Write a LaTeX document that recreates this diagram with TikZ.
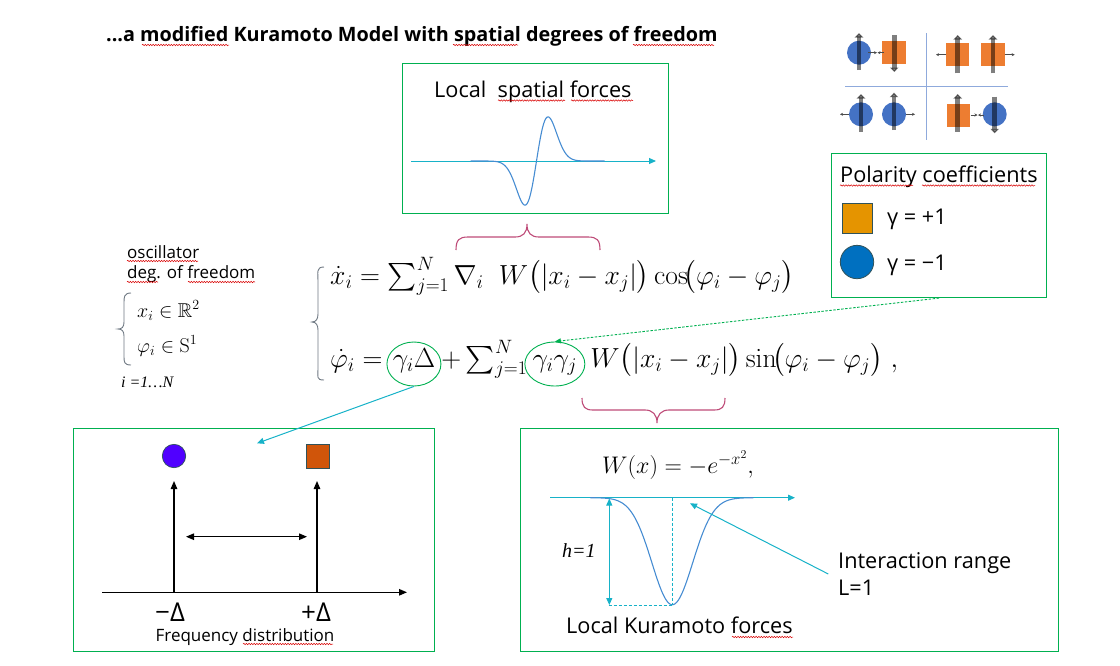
\RequirePackage{fix-cm}
\documentclass[tikz,border=0pt]{standalone}
\usepackage{amsmath,amssymb}
\usepackage[no-math]{fontspec}
\setmainfont{Open Sans}
\newfontfamily\serifit{Liberation Serif}
\usetikzlibrary{arrows.meta,shapes.geometric,decorations.pathmorphing,calc}
\definecolor{gboxc}{RGB}{0,176,80}
\definecolor{crim}{RGB}{190,75,120}
\definecolor{cyanc}{RGB}{23,178,200}
\definecolor{curveb}{RGB}{70,140,210}
\definecolor{iblue}{RGB}{68,114,196}
\definecolor{iorange}{RGB}{237,125,49}
\definecolor{igrid}{RGB}{143,170,220}
\definecolor{porange}{RGB}{229,148,0}
\definecolor{pblue}{RGB}{0,112,192}
\definecolor{pborder}{RGB}{47,82,90}
\definecolor{pviolet}{RGB}{80,0,255}
\definecolor{psq}{RGB}{208,85,10}
\definecolor{braceg}{RGB}{110,120,130}
\tikzset{
  gbox/.style={draw=gboxc, line width=1.1pt, rectangle, inner sep=0, anchor=north west},
  lbl/.style={inner sep=0, anchor=base west, font=\fontsize{21.7}{26}\selectfont},
  eq/.style={inner sep=0, anchor=base west, font=\fontsize{27.6}{32}\selectfont},
  squig/.style={draw=red!85!black, line width=0.5pt, decorate, decoration={snake, segment length=2.6pt, amplitude=0.7pt}},
  crimbrace/.style={draw=crim, line width=1.1pt},
  graybrace/.style={draw=braceg, line width=0.9pt},
  cyanarrow/.style={draw=cyanc, line width=1pt, -{Triangle[length=7pt,width=6pt]}},
  cyandbl/.style={draw=cyanc, line width=1pt, {Triangle[length=7pt,width=6pt]}-{Triangle[length=7pt,width=6pt]}},
  cyandash/.style={draw=cyanc, line width=0.8pt, dash pattern=on 3pt off 2pt},
  barrow/.style={draw=black, line width=1.2pt, -{Triangle[length=8pt,width=6.5pt]}},
  bdbl/.style={draw=black, line width=1.2pt, {Triangle[length=8pt,width=6.5pt]}-{Triangle[length=8pt,width=6.5pt]}},
  curve/.style={draw=curveb, line width=1.1pt},
  gell/.style={draw=gboxc, line width=0.9pt, ellipse, inner sep=0},
  garrow/.style={draw=black, draw opacity=0.5, line width=4.5pt, -{Triangle[width=8.5pt,length=4.5pt]}, fill opacity=0.5},
  sarrow/.style={draw=black!70, line width=0.8pt, -{Stealth[length=3pt,width=3pt]}},
  ibl/.style={circle, fill=iblue, inner sep=0, minimum size=24},
  ior/.style={rectangle, fill=iorange, inner sep=0, minimum width=23.4, minimum height=23},
}
\begin{document}
\begin{tikzpicture}[x=1pt,y=-1pt]
\useasboundingbox (0,0) rectangle (1120,665);

% ---------- title ----------
\node[inner sep=0, anchor=base west, font=\fontsize{19.8}{24}\selectfont\bfseries] (title) at (106,41) {...a modified Kuramoto Model with spatial degrees of freedom};
\draw[squig] (142,45) -- (229,45);
\draw[squig] (453,45) -- (518,45);
\draw[squig] (633,45) -- (714,45);

% ---------- top-right icon grid ----------
\draw[draw=igrid, line width=1pt] (926.7,33) -- (926.7,140);
\draw[draw=igrid, line width=1pt] (845,86.7) -- (1008,86.7);
% TL
\node[ibl] (c1) at (859,52.7) {};
\node[ior] (s1) at (894,52.7) {};
\draw[garrow] (859,70) -- (859,33);
\draw[garrow] (894.3,35) -- (894.3,72);
\draw[sarrow] (868.3,52.7) -- (877,52.7);
\draw[sarrow] (884,52.7) -- (877.5,52.7);
% TR
\node[ior] (s2) at (957.7,54.7) {};
\node[ior] (s3) at (993,54.7) {};
\draw[garrow] (957.7,73.3) -- (957.7,35);
\draw[garrow] (993,73.3) -- (993,35);
\draw[sarrow] (946,54.7) -- (936,54.7);
\draw[sarrow] (1004.7,54.7) -- (1014.7,54.7);
% BL
\node[ibl] (c2) at (861,114.3) {};
\node[ibl] (c3) at (894,114.3) {};
\draw[garrow] (861,131.7) -- (861,94);
\draw[garrow] (894,130) -- (894,92.7);
\draw[sarrow] (849,114.3) -- (840,114.3);
\draw[sarrow] (906,114.3) -- (915,114.3);
% BR
\node[ior] (s4) at (958.5,115.3) {};
\node[ibl] (c4) at (994.7,114.3) {};
\draw[garrow] (957.7,131.7) -- (957.7,94);
\draw[garrow] (994.7,96.7) -- (994.7,133.3);
\draw[sarrow] (970.5,115) -- (977.5,115);
\draw[sarrow] (983.5,115) -- (978,115);

% ---------- polarity box ----------
\node[gbox, minimum width=215, minimum height=144] (pol) at (831,153) {};
\node[lbl] (poltxt) at (840,182) {Polarity coefficients};
\draw[squig] (840,185.5) -- (913,185.5);
\draw[squig] (922,185.5) -- (1035,185.5);
\node[rectangle, fill=porange, draw=pborder, line width=0.8pt, minimum size=30, inner sep=0] (psq) at (857,218) {};
\node[lbl] (pplus) at (887,224) {γ = +1};
\node[circle, fill=pblue, draw=pborder, line width=0.8pt, minimum size=33.4, inner sep=0] (pci) at (857,262) {};
\node[lbl] (pminus) at (887,270) {γ = −1};

% ---------- local spatial forces box ----------
\node[gbox, minimum width=266, minimum height=150] (sbox) at (402,63) {};
\node[lbl] (stxt) at (434,97) {Local\ \ spatial forces};
\draw[squig] (498,100.5) -- (565,100.5);
\draw[squig] (571,100.5) -- (633,100.5);
\coordinate (sa0) at (411,161);
\coordinate (sa1) at (656,161);
\draw[cyanarrow] (sa0) -- (sa1);
\draw[curve, domain=-66:68, samples=120, smooth] plot ({536.5+\x},{161-103*(\x/16.3)*exp(-(\x/16.3)^2)});

% crimson braces
\draw[crimbrace] (456,250) .. controls (456,240) and (459,237) .. (468,237) -- (515,237) .. controls (523,237) and (527,233) .. (527,224) .. controls (527,233) and (531,237) .. (539,237) -- (588,237) .. controls (597,237) and (600,240) .. (600,250);
\draw[crimbrace] (582,398) .. controls (582,407) and (585,410) .. (593,410) -- (645,410) .. controls (653,410) and (657,415) .. (657,423) .. controls (657,415) and (661,410) .. (669,410) -- (714,410) .. controls (722,410) and (725,407) .. (725,398);

% ---------- left: oscillator dof ----------
\node[lbl, font=\fontsize{17}{20}\selectfont] (osc) at (127,258) {oscillator};
\node[lbl, font=\fontsize{17}{20}\selectfont] (dof) at (127,278) {deg. of freedom};
\draw[squig] (127,261) -- (198,261);
\draw[squig] (127,282) -- (158,282);
\draw[squig] (188,282) -- (255,282);
\draw[graybrace] (131,293) .. controls (124,293) and (124,297) .. (124,303) -- (124,322) .. controls (124,327) and (122,329) .. (118,329) .. controls (122,329) and (124,331) .. (124,336) -- (124,356) .. controls (124,362) and (124,365) .. (131,365);
\node[inner sep=0, anchor=base west, font=\fontsize{20}{24}\selectfont] (xr) at (137,317) {$x_i \in \mathbb{R}^2$};
\node[inner sep=0, anchor=base west, font=\fontsize{20}{24}\selectfont] (ps) at (137,352) {$\varphi_i \in \mathrm{S}^1$};
\node[inner sep=0, anchor=base west, font=\fontsize{16}{19}\selectfont\serifit\itshape] (irange) at (121,387) {i =1…N};

% ---------- main equations ----------
\draw[graybrace] (324,267) .. controls (316,267) and (318,272) .. (318,282) -- (318,314) .. controls (318,319) and (316,322) .. (312,322) .. controls (316,322) and (318,325) .. (318,330) -- (318,368) .. controls (318,377) and (316,380) .. (324,380);
\node[eq] (e1) at (330,284) {$\dot x_i = \textstyle\sum_{j=1}^{N} \nabla_i\;\; W\bigl(\lvert x_i - x_j\rvert\bigr)\cos\!\bigl(\varphi_i-\varphi_j\bigr)$};
\node[eq] (e2a) at (330,367) {$\dot\varphi_i =$};
\node[eq] (e2b) at ([xshift=10pt]e2a.base east) {$\gamma_i\Delta$};
\node[eq] (e2c) at ([xshift=6pt]e2b.base east) {$+\textstyle\sum_{j=1}^{N}$};
\node[eq] (e2d) at ([xshift=5pt]e2c.base east) {$\gamma_i\gamma_j$};
\node[eq] (e2e) at ([xshift=13pt]e2d.base east) {$W\bigl(\lvert x_i-x_j\rvert\bigr)\sin\!\bigl(\varphi_i-\varphi_j\bigr)\;,$};
\node[gell, minimum width=54, minimum height=44] (g1) at ($(e2b.base west)!0.5!(e2b.base east)+(0,-3)$) {};
\node[gell, minimum width=60, minimum height=44] (g2) at ($(e2d.base west)!0.5!(e2d.base east)+(0,-3)$) {};

% ---------- frequency distribution box ----------
\node[gbox, minimum width=361, minimum height=223] (fbox) at (73,428) {};
\node[circle, fill=pviolet, draw=pborder, line width=0.7pt, minimum size=23.4, inner sep=0] (vc) at (174,456) {};
\node[rectangle, fill=psq, draw=pborder, line width=0.8pt, minimum size=23.5, inner sep=0] (rs) at (317.7,456.3) {};
\coordinate (ax0) at (102,592.3);
\coordinate (ax1) at (407,592.3);
\draw[barrow] (ax0) -- (ax1);
\coordinate (m0) at (174,592.3);
\coordinate (m1) at (174,481);
\coordinate (p0) at (317,592.3);
\coordinate (p1) at (317,481);
\draw[barrow] (m0) -- (m1);
\draw[barrow] (p0) -- (p1);
\coordinate (d0) at (186,536.7);
\coordinate (d1) at (307,536.7);
\draw[bdbl] (d0) -- (d1);
\node[inner sep=0, anchor=base, font=\fontsize{26}{30}\selectfont] (lm) at (170,621) {−Δ};
\node[inner sep=0, anchor=base, font=\fontsize{26}{30}\selectfont] (lp) at (316,621) {+Δ};
\node[inner sep=0, anchor=base, font=\fontsize{17}{20}\selectfont] (ftxt) at (245,641) {Frequency distribution};
\draw[squig] (243,644) -- (333,644);

% ---------- Kuramoto forces box ----------
\node[gbox, minimum width=538, minimum height=223] (kbox) at (520,428) {};
\node[inner sep=0, anchor=base west, font=\fontsize{24}{28}\selectfont] (wx) at (602,473) {$W(x) = -e^{-x^2},$};
\coordinate (ka0) at (550,497.7);
\coordinate (ka1) at (795,497.7);
\draw[cyanarrow] (ka0) -- (ka1);
\draw[curve, domain=-82:81, samples=120, smooth] plot ({672.3+\x},{497.7+107*exp(-(\x/28.9)^2)});
\coordinate (kt) at (672.3,497.7);
\coordinate (kb) at (672.3,605);
\coordinate (kl) at (608.5,605);
\draw[cyandash] (kt) -- (kb);
\draw[cyandash] (kl) -- (kb);
\coordinate (h0) at (609.3,498.5);
\coordinate (h1) at (609.3,605);
\draw[cyandbl] (h0) -- (h1);
\node[inner sep=0, anchor=base west, font=\fontsize{20}{24}\selectfont\serifit\itshape] (htxt) at (562,557) {h=1};
\node[lbl] (inter) at (838,568) {Interaction range};
\node[lbl] (lone) at (838,595) {L=1};
\coordinate (ir0) at (828.3,574);
\coordinate (ir1) at (690,503.3);
\draw[cyanarrow] (ir0) -- (ir1);
\node[lbl] (ktxt) at (566,633) {Local Kuramoto forces};
\draw[squig] (732,637) -- (793,637);

% ---------- connectors ----------
\coordinate (fa) at (257,443.3);
\draw[cyanarrow] (g1.south) -- (fa);
\draw[draw=gboxc, line width=0.9pt, dash pattern=on 2.5pt off 1.5pt, -{Triangle[length=6pt,width=5pt]}] (pol.south) -- (g2.north);
\end{tikzpicture}
\end{document}
